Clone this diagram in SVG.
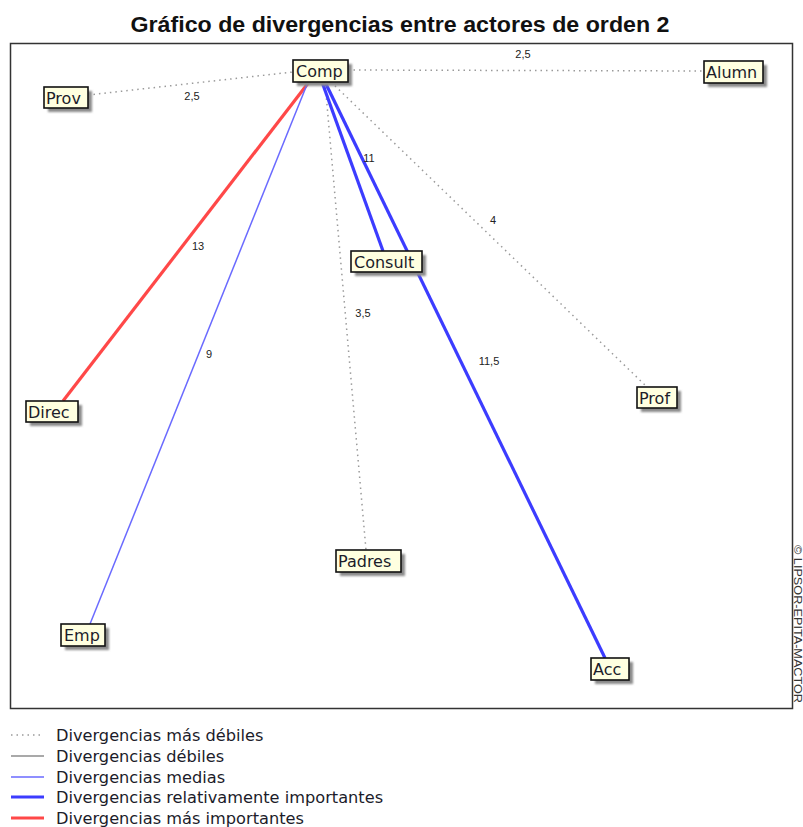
<svg xmlns="http://www.w3.org/2000/svg" width="803" height="827" viewBox="0 0 803 827">
  <style>
    .title { font-family: "Liberation Sans", Arial, sans-serif; font-weight: bold; font-size: 22.5px; fill: #111; }
    .frame { fill: #fff; stroke: #333; stroke-width: 1.5; }
    .box { fill: #ffffe0; stroke: #111; stroke-width: 1.6; }
    .shadow { fill: #8a8a8a; filter: url(#soft); }
    .lbl { font-family: "DejaVu Sans", Verdana, sans-serif; font-size: 16px; fill: #1c1c2a; }
    .num { font-family: "Liberation Sans", Arial, sans-serif; font-size: 11px; fill: #222; text-anchor: middle; }
    .leg { font-family: "DejaVu Sans", Verdana, sans-serif; font-size: 16.2px; fill: #1c1c2a; }
    .weakest { stroke: #9a9a9a; stroke-width: 1.5; stroke-dasharray: 1.5 4; fill: none; }
    .weak { stroke: #555; stroke-width: 1.2; fill: none; }
    .medium { stroke: #6a6aff; stroke-width: 1.5; fill: none; }
    .strong { stroke: #3c3cff; stroke-width: 3.2; fill: none; }
    .strongest { stroke: #ff4848; stroke-width: 3.2; fill: none; }
    .copy { font-family: "Liberation Sans", Arial, sans-serif; font-size: 10px; fill: #333; }
  </style>
  <defs>
    <filter id="soft" x="-20%" y="-40%" width="140%" height="180%">
      <feGaussianBlur stdDeviation="0.8"/>
    </filter>
  </defs>

  <rect width="803" height="827" fill="#fff"/>
  <text class="title" x="400" y="32" text-anchor="middle" textLength="539" lengthAdjust="spacingAndGlyphs">Gráfico de divergencias entre actores de orden 2</text>
  <rect class="frame" x="10.5" y="43.5" width="782" height="665"/>
  <text class="copy" transform="translate(794,545) rotate(90)" textLength="158" lengthAdjust="spacingAndGlyphs">© LIPSOR-EPITA-MACTOR</text>

  <!-- links between actors -->
  <g id="connectors">
    <line class="weakest" x1="88" y1="95" x2="293" y2="72"/>
    <line class="weakest" x1="348" y1="70" x2="704" y2="71"/>
    <line class="weakest" x1="325" y1="82" x2="366" y2="550"/>
    <line class="weakest" x1="331" y1="82" x2="647" y2="387"/>
    <line class="strongest" x1="309" y1="82" x2="63" y2="401"/>
    <line class="medium" x1="308" y1="82" x2="90" y2="624"/>
    <line class="strong" x1="322" y1="82" x2="383" y2="251"/>
    <line class="strong" x1="325" y1="82" x2="605" y2="658"/>
    <text class="num" x="192" y="100">2,5</text>
    <text class="num" x="523" y="58">2,5</text>
    <text class="num" x="369" y="162">11</text>
    <text class="num" x="493" y="224">4</text>
    <text class="num" x="363" y="317">3,5</text>
    <text class="num" x="489" y="365">11,5</text>
    <text class="num" x="198" y="250">13</text>
    <text class="num" x="209" y="358">9</text>
  </g>

  <!-- actors -->
  <g id="comp">
    <rect class="shadow" x="297" y="64" width="55" height="22"/>
    <rect class="box" x="293" y="60" width="55" height="22"/>
    <text class="lbl" x="296" y="77">Comp</text>
  </g>
  <g id="prov">
    <rect class="shadow" x="48" y="91" width="44" height="21"/>
    <rect class="box" x="44" y="87" width="44" height="21"/>
    <text class="lbl" x="46" y="104">Prov</text>
  </g>
  <g id="alumn">
    <rect class="shadow" x="708" y="65" width="59" height="22"/>
    <rect class="box" x="704" y="61" width="59" height="22"/>
    <text class="lbl" x="706" y="78">Alumn</text>
  </g>
  <g id="consult">
    <rect class="shadow" x="355" y="255" width="71" height="21"/>
    <rect class="box" x="351" y="251" width="71" height="21"/>
    <text class="lbl" x="354" y="268">Consult</text>
  </g>
  <g id="prof">
    <rect class="shadow" x="641" y="391" width="40" height="21"/>
    <rect class="box" x="637" y="387" width="40" height="21"/>
    <text class="lbl" x="639" y="404">Prof</text>
  </g>
  <g id="direc">
    <rect class="shadow" x="30" y="405" width="52" height="21"/>
    <rect class="box" x="26" y="401" width="52" height="21"/>
    <text class="lbl" x="28" y="418">Direc</text>
  </g>
  <g id="emp">
    <rect class="shadow" x="65" y="628" width="44" height="22"/>
    <rect class="box" x="61" y="624" width="44" height="22"/>
    <text class="lbl" x="64" y="641">Emp</text>
  </g>
  <g id="padres">
    <rect class="shadow" x="340" y="554" width="65" height="22"/>
    <rect class="box" x="336" y="550" width="65" height="22"/>
    <text class="lbl" x="338" y="567">Padres</text>
  </g>
  <g id="acc">
    <rect class="shadow" x="595" y="662" width="38" height="22"/>
    <rect class="box" x="591" y="658" width="38" height="22"/>
    <text class="lbl" x="593" y="675">Acc</text>
  </g>

  <!-- legend -->
  <g id="legend">
    <line class="weakest" x1="11" y1="735" x2="44" y2="735"/>
    <text class="leg" x="56" y="741">Divergencias más débiles</text>
    <line class="weak" x1="11" y1="756" x2="44" y2="756"/>
    <text class="leg" x="56" y="762">Divergencias débiles</text>
    <line class="medium" x1="11" y1="777" x2="44" y2="777"/>
    <text class="leg" x="56" y="783">Divergencias medias</text>
    <line class="strong" x1="11" y1="797" x2="44" y2="797"/>
    <text class="leg" x="56" y="803">Divergencias relativamente importantes</text>
    <line class="strongest" x1="11" y1="818" x2="44" y2="818"/>
    <text class="leg" x="56" y="824">Divergencias más importantes</text>
  </g>
</svg>
